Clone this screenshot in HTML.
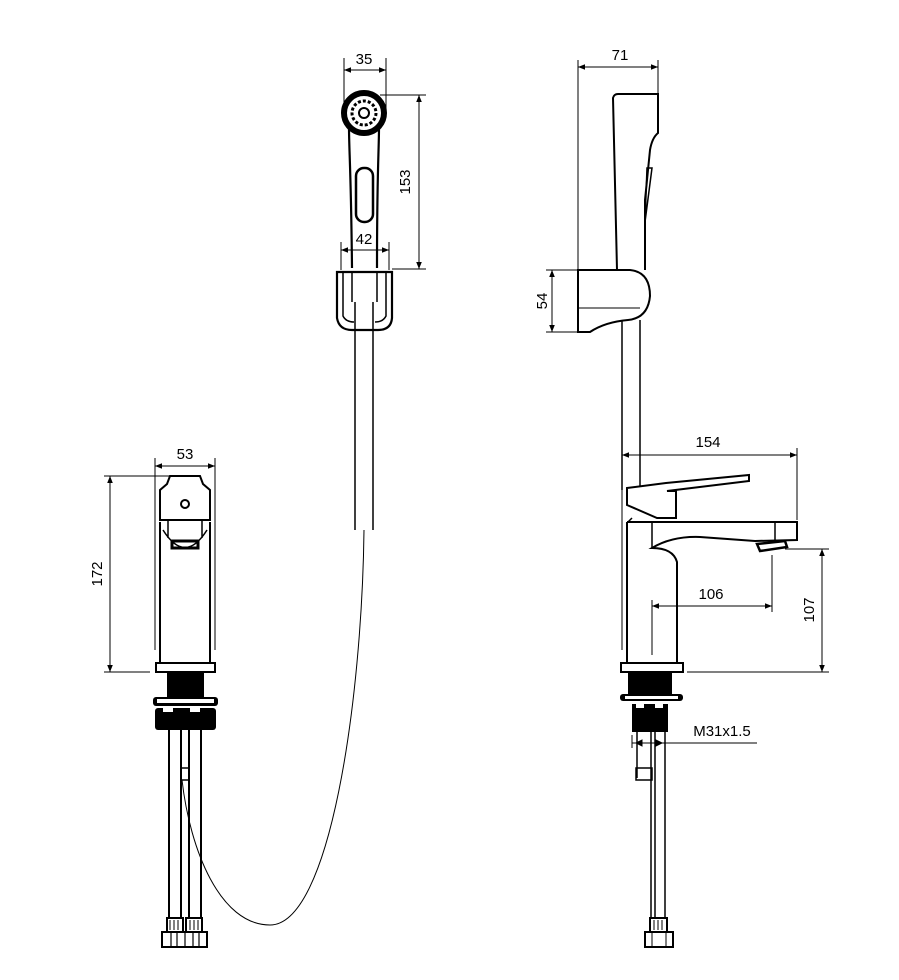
<!DOCTYPE html>
<html><head><meta charset="utf-8"><style>
html,body{margin:0;padding:0;background:#fff;}
svg{display:block;}
text{font-family:"Liberation Sans",Arial,sans-serif;font-size:15px;fill:#000;}
</style></head><body>
<svg width="899" height="980" viewBox="0 0 899 980" xmlns="http://www.w3.org/2000/svg">
<defs>
<marker id="a" viewBox="0 0 10 10" refX="10" refY="5" markerWidth="9" markerHeight="7" orient="auto-start-reverse" markerUnits="userSpaceOnUse"><path d="M0,1 L10,5 L0,9 z" fill="#000"/></marker>
</defs>
<g fill="none" stroke="#000" stroke-width="1">
<line x1="344" y1="58" x2="344" y2="110"/>
<line x1="386" y1="58" x2="386" y2="110"/>
<line x1="344" y1="70" x2="386" y2="70" marker-start="url(#a)" marker-end="url(#a)"/>
<line x1="380" y1="95" x2="426" y2="95"/>
<line x1="392" y1="269" x2="426" y2="269"/>
<line x1="419" y1="95" x2="419" y2="269" marker-start="url(#a)" marker-end="url(#a)"/>
<line x1="341" y1="242" x2="341" y2="270"/>
<line x1="389" y1="242" x2="389" y2="270"/>
<line x1="341" y1="250" x2="389" y2="250" marker-start="url(#a)" marker-end="url(#a)"/>
<path stroke-width="2.2" d="M349,127 C349,150 351,170 352,268 M379,127 C379,150 377,170 377,268"/>
<circle cx="364" cy="113" r="20" stroke-width="6"/>
<circle cx="364" cy="113" r="12" stroke-width="3" stroke-dasharray="3 2"/>
<circle cx="364" cy="113" r="5" stroke-width="2"/>
<rect x="356" y="168" width="17" height="54" rx="8" stroke-width="2.5"/>
<path stroke-width="2.2" d="M337,272 L337,318 Q339,330 352,330 L378,330 Q391,330 392,318 L392,272 Z"/>
<path stroke-width="1.5" d="M343,272 L343,316 Q346,322 354,322 M386,272 L386,316 Q383,322 375,322 M352,272 L352,302 M377,272 L377,302"/>
<path stroke-width="1.5" d="M355,302 L355,530 M373,302 L373,530"/>
<path d="M364,530 C362,700 330,925 270,925 C220,925 190,850 182,780"/>
<line x1="155" y1="458" x2="155" y2="650"/>
<line x1="215" y1="458" x2="215" y2="650"/>
<line x1="155" y1="466" x2="215" y2="466" marker-start="url(#a)" marker-end="url(#a)"/>
<line x1="104" y1="476" x2="170" y2="476"/>
<line x1="104" y1="672" x2="150" y2="672"/>
<line x1="110" y1="476" x2="110" y2="672" marker-start="url(#a)" marker-end="url(#a)"/>
<path stroke-width="2" d="M160,522 L160,663 M210,522 L210,663 M160,520 L210,520 L210,490 L203,484 L200,476 L170,476 L167,484 L160,490 Z"/>
<circle cx="185" cy="504" r="4" stroke-width="2"/>
<path stroke-width="1.5" d="M163,530 Q185,565 207,530 M168,520 L168,538 M202,520 L202,538"/>
<rect x="172" y="541" width="26" height="7" stroke-width="3"/>
<rect x="156" y="663" width="59" height="9" stroke-width="2"/>
<path stroke-width="2" d="M169,730 L169,918 M181,730 L181,918 M189,730 L189,918 M201,730 L201,918"/>
<rect x="181" y="768" width="8" height="12" stroke-width="1.5"/>
<line x1="578" y1="60" x2="578" y2="270"/>
<line x1="658" y1="60" x2="658" y2="95"/>
<line x1="578" y1="67" x2="658" y2="67" marker-start="url(#a)" marker-end="url(#a)"/>
<line x1="546" y1="270" x2="578" y2="270"/>
<line x1="546" y1="332" x2="578" y2="332"/>
<line x1="552" y1="270" x2="552" y2="332" marker-start="url(#a)" marker-end="url(#a)"/>
<path stroke-width="2" d="M617,270 L613,98 Q614,94 618,94 L658,94 L658,133 Q652,138 650,150 L645,200 L645,270"/>
<path stroke-width="1.5" d="M647,168 L652,168 L645,222 Z"/>
<path stroke-width="2" d="M578,270 L630,270 Q650,272 650,296 Q648,318 628,320 Q605,322 590,332 L578,332 Z"/>
<line x1="578" y1="308" x2="640" y2="308"/>
<path stroke-width="1.5" d="M622,320 L622,490 M640,320 L640,486"/>
<line x1="622" y1="450" x2="622" y2="650"/>
<line x1="797" y1="448" x2="797" y2="520"/>
<line x1="622" y1="455" x2="797" y2="455" marker-start="url(#a)" marker-end="url(#a)"/>
<path stroke-width="2" d="M627,488 L666,483 L749,475 L749,481 L667,491 L676,491 L676,518 L657,518 L627,505 Z"/>
<path stroke-width="1.5" d="M632,518 L628,522 L676,522"/>
<path stroke-width="2" d="M627,522 L627,663 M677,663 L677,562 Q673,548 652,548 Q672,536 700,537 L755,541 L797,540 L797,522 L627,522"/>
<path stroke-width="1.5" d="M652,522 L652,548 M775,522 L775,540"/>
<path stroke-width="2.5" d="M757,544 L785,541 L787,547 L760,551 Z"/>
<line x1="785" y1="549" x2="829" y2="549"/>
<line x1="687" y1="672" x2="829" y2="672"/>
<line x1="822" y1="549" x2="822" y2="672" marker-start="url(#a)" marker-end="url(#a)"/>
<line x1="652" y1="600" x2="652" y2="655"/>
<line x1="772" y1="555" x2="772" y2="612"/>
<line x1="652" y1="606" x2="772" y2="606" marker-start="url(#a)" marker-end="url(#a)"/>
<rect x="621" y="663" width="62" height="9" stroke-width="2"/>
<path stroke-width="1.5" d="M637,732 L637,778 M651,732 L651,918 M655,732 L655,918 M665,732 L665,918"/>
<rect x="636" y="768" width="16" height="12" stroke-width="1.5"/>
<line x1="632" y1="735" x2="632" y2="748"/>
<line x1="632" y1="743" x2="757" y2="743"/>
<path d="M636,743 L642,740 L642,746 Z M662,743 L656,740 L656,746 Z" fill="#000"/>
</g>
<g fill="#000">
<rect x="167" y="672" width="37" height="26"/>
<rect x="153" y="697" width="65" height="9" rx="3"/>
<rect x="155" y="708" width="61" height="22" rx="3"/>
<rect x="628" y="672" width="44" height="24"/>
<rect x="620" y="694" width="63" height="7" rx="3"/>
<rect x="632" y="704" width="36" height="28"/>
</g>
<g fill="#fff">
<rect x="157" y="699" width="57" height="4"/>
<rect x="163" y="708" width="10" height="4"/><rect x="190" y="708" width="10" height="4"/>
<rect x="625" y="696" width="53" height="3"/>
<rect x="636" y="704" width="8" height="4"/><rect x="655" y="704" width="8" height="4"/>
</g>
<g fill="none" stroke="#000" stroke-width="2">
<rect x="167" y="918" width="16" height="14"/><rect x="186" y="918" width="16" height="14"/>
<rect x="162" y="932" width="45" height="15"/>
<path d="M171,932 L171,947 M177,932 L177,947 M185,932 L185,947 M193,932 L193,947 M199,932 L199,947" stroke-width="1.2"/>
<path d="M170,920 L170,930 M174,920 L174,930 M178,920 L178,930 M190,920 L190,930 M194,920 L194,930 M198,920 L198,930" stroke-width="1"/>
<rect x="650" y="918" width="17" height="14"/>
<rect x="645" y="932" width="28" height="15"/>
<path d="M654,920 L654,930 M658,920 L658,930 M662,920 L662,930 M652,932 L652,947 M666,932 L666,947" stroke-width="1"/>
</g>
<g>
<text x="364" y="64" text-anchor="middle">35</text>
<text x="364" y="244" text-anchor="middle">42</text>
<text transform="translate(410,182) rotate(-90)" text-anchor="middle">153</text>
<text x="620" y="60" text-anchor="middle">71</text>
<text transform="translate(547,301) rotate(-90)" text-anchor="middle">54</text>
<text x="185" y="459" text-anchor="middle">53</text>
<text transform="translate(102,574) rotate(-90)" text-anchor="middle">172</text>
<text x="708" y="447" text-anchor="middle">154</text>
<text x="711" y="599" text-anchor="middle">106</text>
<text transform="translate(814,610) rotate(-90)" text-anchor="middle">107</text>
<text x="722" y="736" text-anchor="middle">M31x1.5</text>
</g>
</svg>
</body></html>
